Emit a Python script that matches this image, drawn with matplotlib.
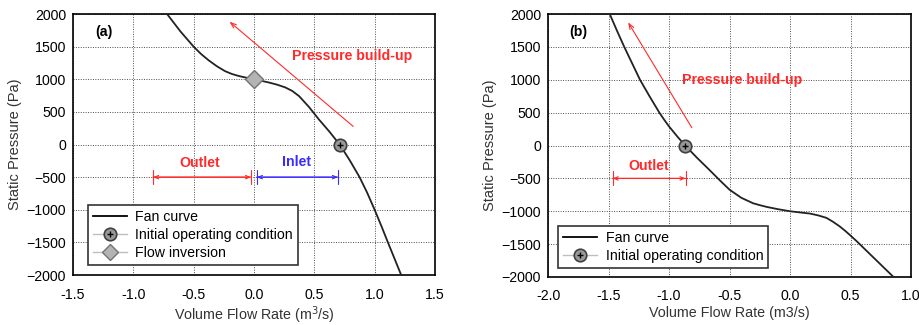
import numpy as np
from matplotlib import pyplot as plt
from matplotlib.lines import Line2D
from matplotlib.legend_handler import HandlerTuple

plt.rcParams['font.family'] = ['Liberation Sans', 'DejaVu Sans']

# fan curve (a)
flow_a = [-0.72, -0.61, -0.5, -0.4375, -0.375, -0.3075, -0.24, -0.1825, -0.125, -0.0625,
          0.0, 0.0625, 0.125, 0.1925, 0.26, 0.3175, 0.375, 0.4575, 0.54, 0.625, 0.71,
          0.7925, 0.875, 0.9375, 1.0, 1.055, 1.11, 1.165, 1.22]
pres_a = [2000, 1735, 1500, 1386, 1290, 1200, 1125, 1081, 1050, 1024,
          1000, 976, 950, 917, 875, 821, 740, 572, 380, 198, 0,
          -238, -500, -736, -1000, -1245, -1500, -1750, -2000]
init_a = (0.71, 0)
inv_a = (0.0, 1000)

# fan curve (b)
flow_b = [-1.49, -1.43, -1.37, -1.305, -1.24, -1.16, -1.08, -1.04, -1.0, -0.933, -0.867,
          -0.767, -0.667, -0.583, -0.5, -0.403, -0.306, -0.248, -0.19, -0.095, 0.0,
          0.0825, 0.165, 0.2325, 0.3, 0.355, 0.41, 0.455, 0.5, 0.56, 0.62, 0.7375, 0.855]
pres_b = [2000, 1745, 1500, 1250, 1000, 745, 500, 392, 290, 140, 0,
          -190, -370, -525, -672, -795, -878, -908, -935, -970, -1000,
          -1018, -1035, -1063, -1100, -1160, -1230, -1297, -1370, -1472, -1580, -1790, -2000]
init_b = (-0.867, 0)

fig = plt.figure(figsize=(9.2, 3.25), dpi=100)
ax0 = fig.add_axes([0.0793, 0.1538, 0.3935, 0.803])
ax1 = fig.add_axes([0.5957, 0.1477, 0.3946, 0.809])

red = '#ff2a2a'
blue = '#3a2aff'
fs = 10.2


def style(ax, xlim, xticks, xlabel):
    ax.set_xlim(*xlim)
    ax.set_ylim(-2000, 2000)
    ax.set_xticks(xticks)
    ax.set_xticklabels(['%.1f' % t for t in xticks])
    ax.set_yticks(np.arange(-2000, 2001, 500))
    ax.tick_params(length=0, labelsize=fs)
    ax.tick_params(axis='x', pad=9)
    ax.tick_params(axis='y', pad=5)
    ax.grid(True, color='0.3', linestyle=(0, (1, 1.5)), linewidth=0.7)
    ax.set_axisbelow(True)
    for s in ax.spines.values():
        s.set_linewidth(1.2)
    ax.set_xlabel(xlabel, fontsize=10.3, color='0.2', labelpad=2)
    ax.set_ylabel('Static Pressure (Pa)', fontsize=10.5, color='0.2', labelpad=3)


def init_marker(ax, pt):
    ax.plot(*pt, 'o', ms=9, mfc='0.6', mec='0.25', mew=1.2, zorder=4)
    ax.plot(*pt, '+', ms=4, color='k', mew=1, zorder=5)


def span(ax, x0, x1, y, color):
    ax.annotate('', xy=(x1, y), xytext=(x0, y),
                arrowprops=dict(arrowstyle='|-|,widthA=0.5,widthB=0.5', color=color, lw=0.8))
    ax.annotate('', xy=(x1, y), xytext=(x0, y),
                arrowprops=dict(arrowstyle='<->,head_length=0.3,head_width=0.12', color=color, lw=0.8))


def legend_handles(with_inv):
    h_fan = Line2D([], [], color='k', lw=1.3)
    h_c = Line2D([], [], color='0.75', lw=1, marker='o', ms=9, mfc='0.6', mec='0.25', mew=1.2)
    h_p = Line2D([], [], ls='none', marker='+', ms=4, color='k', mew=1)
    hs = [h_fan, (h_c, h_p)]
    ls = ['Fan curve', 'Initial operating condition']
    if with_inv:
        hs.append(Line2D([], [], color='0.75', lw=1, marker='D', ms=8, mfc='0.7', mec='0.45'))
        ls.append('Flow inversion')
    return hs, ls


def add_legend(ax, with_inv, anchor):
    hs, ls = legend_handles(with_inv)
    leg = ax.legend(hs, ls, loc='lower left', bbox_to_anchor=anchor, fontsize=fs,
                    handler_map={tuple: HandlerTuple(ndivide=1, pad=0)},
                    fancybox=False, framealpha=1, edgecolor='0.2', handlelength=2.4,
                    borderpad=0.35, labelspacing=0.3, handletextpad=0.6, borderaxespad=0)
    leg.get_frame().set_linewidth(1.2)


# (a)
style(ax0, (-1.5, 1.5), [-1.5, -1.0, -0.5, 0.0, 0.5, 1.0, 1.5], 'Volume Flow Rate (m$^3$/s)')
ax0.plot(flow_a, pres_a, color='#222222', lw=1.3, zorder=3)
init_marker(ax0, init_a)
ax0.plot(*inv_a, 'D', ms=9, mfc='0.7', mec='0.45', zorder=4)
ax0.annotate('', xy=(-0.22, 1910), xytext=(0.84, 250),
             arrowprops=dict(arrowstyle='->,head_length=0.4,head_width=0.15', color=red, lw=0.8))
ax0.text(0.81, 1360, 'Pressure build-up', color=red, fontsize=fs, fontweight='bold',
         ha='center', va='center')
span(ax0, -0.86, 0.0, -500, red)
span(ax0, 0.0, 0.72, -500, blue)
ax0.text(-0.45, -280, 'Outlet', color=red, fontsize=fs, fontweight='bold', ha='center', va='center')
ax0.text(0.35, -270, 'Inlet', color=blue, fontsize=fs, fontweight='bold', ha='center', va='center')
ax0.text(-1.24, 1720, '(a)', fontsize=fs, fontweight='bold', ha='center', va='center')
add_legend(ax0, True, (0.041, 0.038))

# (b)
style(ax1, (-2.0, 1.0), [-2.0, -1.5, -1.0, -0.5, 0.0, 0.5, 1.0], 'Volume Flow Rate (m3/s)')
ax1.plot(flow_b, pres_b, color='#222222', lw=1.3, zorder=3)
init_marker(ax1, init_b)
ax1.annotate('', xy=(-1.35, 1910), xytext=(-0.80, 235),
             arrowprops=dict(arrowstyle='->,head_length=0.4,head_width=0.15', color=red, lw=0.8))
ax1.text(-0.40, 990, 'Pressure build-up', color=red, fontsize=fs, fontweight='bold',
         ha='center', va='center')
span(ax1, -1.49, -0.84, -500, red)
ax1.text(-1.17, -310, 'Outlet', color=red, fontsize=fs, fontweight='bold', ha='center', va='center')
ax1.text(-1.75, 1720, '(b)', fontsize=fs, fontweight='bold', ha='center', va='center')
add_legend(ax1, False, (0.028, 0.034))

plt.savefig('out.png', dpi=100)
